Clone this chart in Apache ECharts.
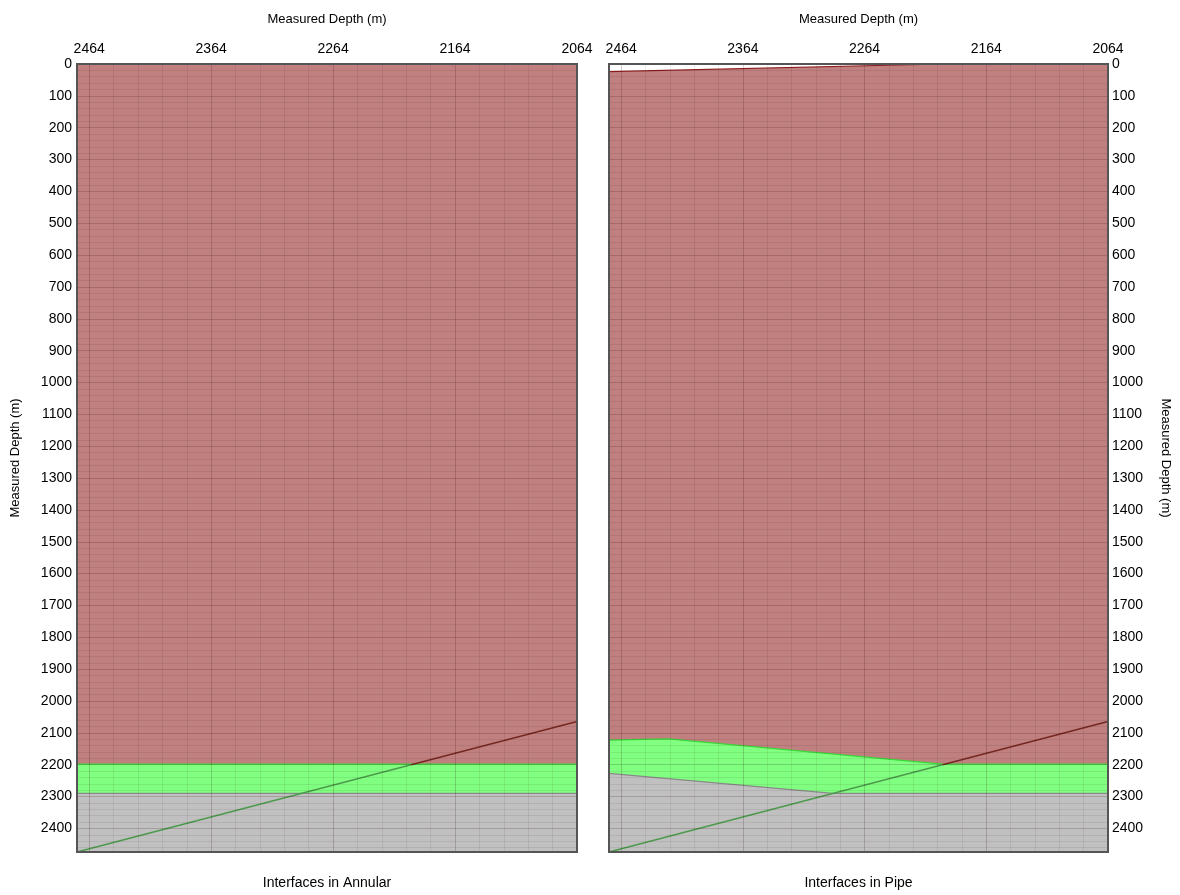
<!DOCTYPE html>
<html><head><meta charset="utf-8">
<script src="https://cdn.jsdelivr.net/npm/echarts@6/dist/echarts.min.js"></script>
<style>html,body{margin:0;padding:0;background:#fff}#c{width:1180px;height:895px}</style>
</head><body><div id="c"></div>
<script>
// ---- data ----
const xMin = 2064, xMax = 2474;
const yMin = 0, yMax = 2474;
const majorStep = 100, minorStep = 20;
const xLabelRef = 2464;
const axisNames = ['Measured Depth (m)', 'Measured Depth (m)'];
const panelTitles = ['Interfaces in Annular', 'Interfaces in Pipe'];

// Annular interfaces: top boundary of each fluid [x, depth]
const annularBrownTop = [[2064, 0], [2474, 0]];
const annularGreenTop = [[2064, 2198], [2474, 2198]];
const annularGrayTop  = [[2064, 2290], [2474, 2290]];

// Pipe interfaces
const pipeBrownTop = [[2064, 0], [2200, 0], [2474, 24]];
const pipeGreenTop = [[2064, 2198], [2200, 2198], [2425, 2119], [2474, 2123]];
const pipeGrayTop  = [[2064, 2290], [2290, 2290], [2474, 2227]];

// Bit depth line (measured depth vs measured depth)
const diagonalUpper = [[2200, 2200], [2064, 2064]];
const diagonalLower = [[2474, 2474], [2200, 2200]];

// ---- styles ----
const tickFont = 'Liberation Sans, Arial, sans-serif';
const nameFont = 'Liberation Sans, Arial, sans-serif';
const splitColors = ['rgba(40,0,0,0.18)', 'rgba(20,0,0,0.08)', 'rgba(20,0,0,0.08)', 'rgba(20,0,0,0.08)', 'rgba(20,0,0,0.08)'];
const fillBrown = '#c18080', fillGreen = '#80ff80', fillGray = '#c0c0c0';

const grids = [
  {left: 77, top: 64, width: 500, height: 792},
  {left: 609, top: 64, width: 499, height: 792}
];

function topAxis(gi) {
  return {
    type: 'value', gridIndex: gi, position: 'top', inverse: true,
    min: xMin, max: xMax, interval: minorStep, z: 5,
    name: axisNames[gi], nameLocation: 'middle', nameGap: 38,
    nameTextStyle: {fontFamily: nameFont, fontSize: 13, color: '#000'},
    axisLine: {show: false}, axisTick: {show: false},
    axisLabel: {margin: 8, fontFamily: tickFont, fontSize: 14, color: '#000',
      showMaxLabel: false,
      formatter: v => (Math.round(v - xLabelRef) % majorStep === 0 ? String(Math.round(v)) : '')},
    splitLine: {show: true, lineStyle: {color: splitColors, width: 1}}
  };
}
function bottomAxis(gi) {
  return {
    type: 'value', gridIndex: gi, position: 'bottom', min: 0, max: 1,
    name: panelTitles[gi], nameLocation: 'middle', nameGap: 24,
    nameTextStyle: {fontFamily: nameFont, fontSize: 14, color: '#000'},
    axisLine: {show: false}, axisTick: {show: false}, axisLabel: {show: false}, splitLine: {show: false}
  };
}
function sideAxis(gi) {
  const right = gi === 1;
  return {
    type: 'value', gridIndex: gi, position: right ? 'right' : 'left', inverse: true,
    min: yMin, max: yMax, interval: minorStep, z: 5,
    name: axisNames[gi], nameLocation: 'middle', nameGap: right ? 51 : 55, nameRotate: right ? -90 : 90,
    nameTextStyle: {fontFamily: nameFont, fontSize: 13, color: '#000'},
    axisLine: {show: false}, axisTick: {show: false},
    axisLabel: {margin: right ? 4 : 5, fontFamily: tickFont, fontSize: 14, color: '#000',
      showMaxLabel: false,
      formatter: v => (Math.round(v) % majorStep === 0 ? String(Math.round(v)) : '')},
    splitLine: {show: true, lineStyle: {color: splitColors, width: 1}}
  };
}

function area(data, xi, yi, fill, stroke) {
  return {
    type: 'line', xAxisIndex: xi, yAxisIndex: yi, data: data, symbol: 'none',
    lineStyle: {color: stroke, width: 1.2}, areaStyle: {color: fill, opacity: 1, origin: 'end'},
    silent: true, z: 2
  };
}
function line(data, xi, yi, color) {
  return {
    type: 'line', xAxisIndex: xi, yAxisIndex: yi, data: data, symbol: 'none',
    lineStyle: {color: color, width: 1.5}, silent: true, z: 3
  };
}

const series = [];
[[annularBrownTop, annularGreenTop, annularGrayTop], [pipeBrownTop, pipeGreenTop, pipeGrayTop]].forEach((p, gi) => {
  const xi = gi * 2, yi = gi;
  series.push(area(p[0], xi, yi, fillBrown, '#8b1c1c'));
  series.push(area(p[1], xi, yi, fillGreen, '#38d838'));
  series.push(area(p[2], xi, yi, fillGray, '#8a8a8a'));
  series.push(line(diagonalUpper, xi, yi, '#74281f'));
  series.push(line(diagonalLower, xi, yi, '#4c9a4c'));
});

const chart = echarts.init(document.getElementById('c'), null, {renderer: 'canvas'});
chart.setOption({
  animation: false,
  backgroundColor: '#fff',
  grid: grids.map(g => Object.assign({show: true, borderColor: '#555', borderWidth: 2, z: 6, containLabel: false}, g)),
  xAxis: [topAxis(0), bottomAxis(0), topAxis(1), bottomAxis(1)],
  yAxis: [sideAxis(0), sideAxis(1)],
  series: series
});
</script></body></html>
